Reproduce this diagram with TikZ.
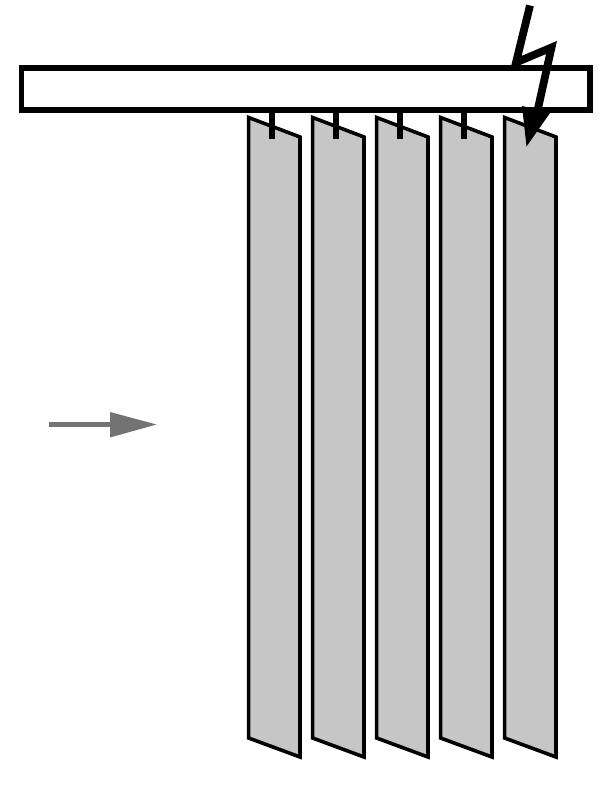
\documentclass[tikz,border=0pt]{standalone}
\definecolor{slatgray}{HTML}{C6C6C6}
\definecolor{arrowgray}{HTML}{737373}
\tikzset{
  slat/.style={draw=black,fill=slatgray,line width=3.6pt,line join=miter},
  rail/.style={draw=black,fill=white,line width=5.8pt,line join=miter},
  hook/.style={draw=black,line width=6.8pt},
  bolt/.style={draw=black,line width=7.8pt,line join=miter,miter limit=10},
  bolthead/.style={fill=black},
  flowshaft/.style={draw=arrowgray,line width=4.8pt},
  flowhead/.style={fill=arrowgray}
}
\begin{document}
\begin{tikzpicture}[x=1pt,y=-1pt]
\useasboundingbox (0,0) rectangle (615,795);
\fill[white] (0,0) rectangle (615,795);
% rail
\draw[rail] (21.5,68) rectangle (590,110);
% slats and hooks
\foreach \dx in {0,64,128,192,256}{
  \draw[slat] (248.6+\dx,117.5) -- (300+\dx,137) -- (300+\dx,757) -- (248.6+\dx,738) -- cycle;
}
\foreach \dx in {0,64,128,192}{
  \draw[hook] (272+\dx,110) -- (272+\dx,138.5);
}
% lightning bolt
\draw[bolt] (530,5.5) -- (516,62.5) -- (551.5,47.5) -- (537,113);
\fill[bolthead] (522,106) -- (550,113) -- (526.5,146.5) -- cycle;
% flow arrow
\draw[flowshaft] (49,424.5) -- (112,424.5);
\fill[flowhead] (110,412) -- (156.5,424.5) -- (110,437.5) -- cycle;
\end{tikzpicture}
\end{document}
